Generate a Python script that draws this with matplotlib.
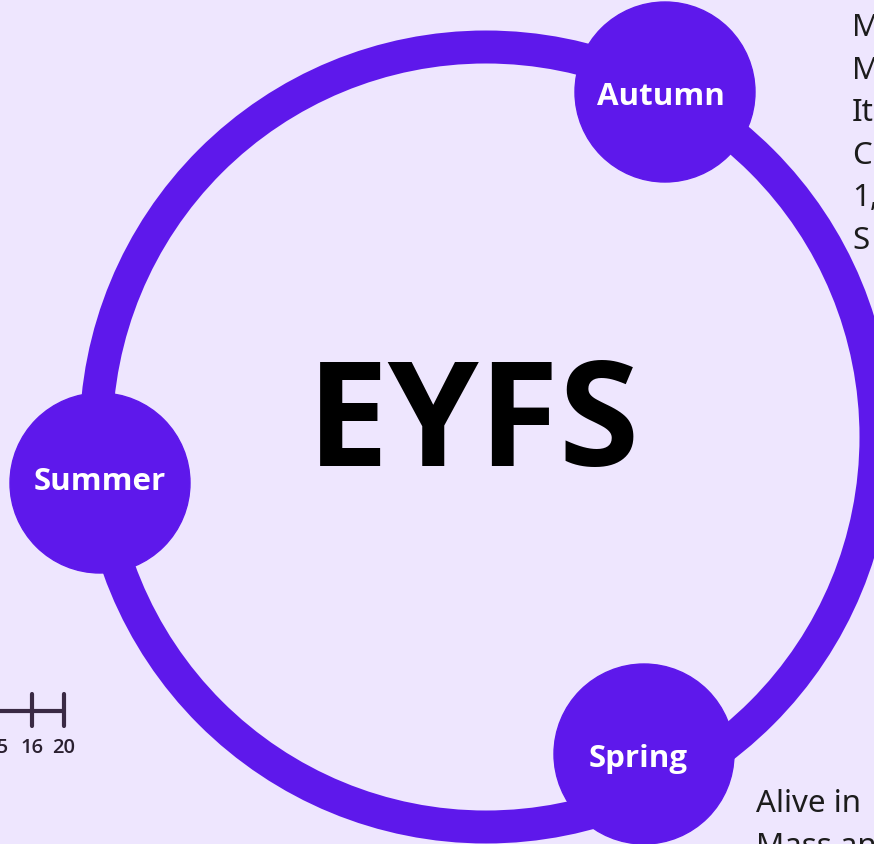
import matplotlib.pyplot as plt
from matplotlib.patches import Circle

# seasons around the ring
seasons = ['Autumn', 'Summer', 'Spring']
title = 'EYFS'

# cut-off text on the right and bottom edge
right_lines = ['M', 'M', 'It', 'C', '1,', 'S']
bottom_lines = ['Alive in', 'Mass an']

# number line fragment bottom left
tick_labels = ['15', '16', '20']

bg = '#EEE6FE'
purple = '#5E18EB'

fig = plt.figure(figsize=(8.74, 8.45), dpi=100)
fig.patch.set_facecolor(bg)
ax = fig.add_axes([0, 0, 1, 1])
ax.set_facecolor(bg)
ax.set_xlim(0, 874)
ax.set_ylim(845, 0)
ax.axis('off')

# big ring
ax.add_patch(Circle((486, 438), 390, fill=False, edgecolor=purple, linewidth=33 * 0.72))

# season bubbles
bubble_xy = [(665, 93), (100, 484), (644, 755)]
label_xy = [(661, 105), (100, 490), (638, 767)]
for name, (cx, cy), (lx, ly) in zip(seasons, bubble_xy, label_xy):
    ax.add_patch(Circle((cx, cy), 90, color=purple, zorder=3))
    ax.text(lx, ly, name, ha='center', va='baseline', color='white',
            fontsize=22.5, fontweight='bold', family='Open Sans', zorder=4)

# centre title
ax.text(473, 466, title, ha='center', va='baseline', color='black',
        fontsize=105, fontweight='bold', family='Open Sans')

# right side text (cut at figure edge)
for i, line in enumerate(right_lines):
    ax.text(852, 36 + 42.6 * i, line, ha='left', va='baseline', color='#1c1c1c',
            fontsize=22.5, family='Noto Sans')

for i, line in enumerate(bottom_lines):
    ax.text(756, 812 + 43 * i, line, ha='left', va='baseline', color='#1c1c1c',
            fontsize=22.5, family='Noto Sans')

# number line
tick_x = [-3, 32, 64]
line_col = '#3a2a44'
ax.plot([0, 64], [712, 712], color=line_col, lw=3, solid_capstyle='butt')
for x, lab in zip(tick_x, tick_labels):
    ax.plot([x, x], [695, 727], color=line_col, lw=3, solid_capstyle='round')
    ax.text(x, 753, lab, ha='center', va='baseline', color='#2a2030',
            fontsize=14.5, fontweight='semibold', family='Open Sans')

fig.savefig('out.png', dpi=100, facecolor=bg)
